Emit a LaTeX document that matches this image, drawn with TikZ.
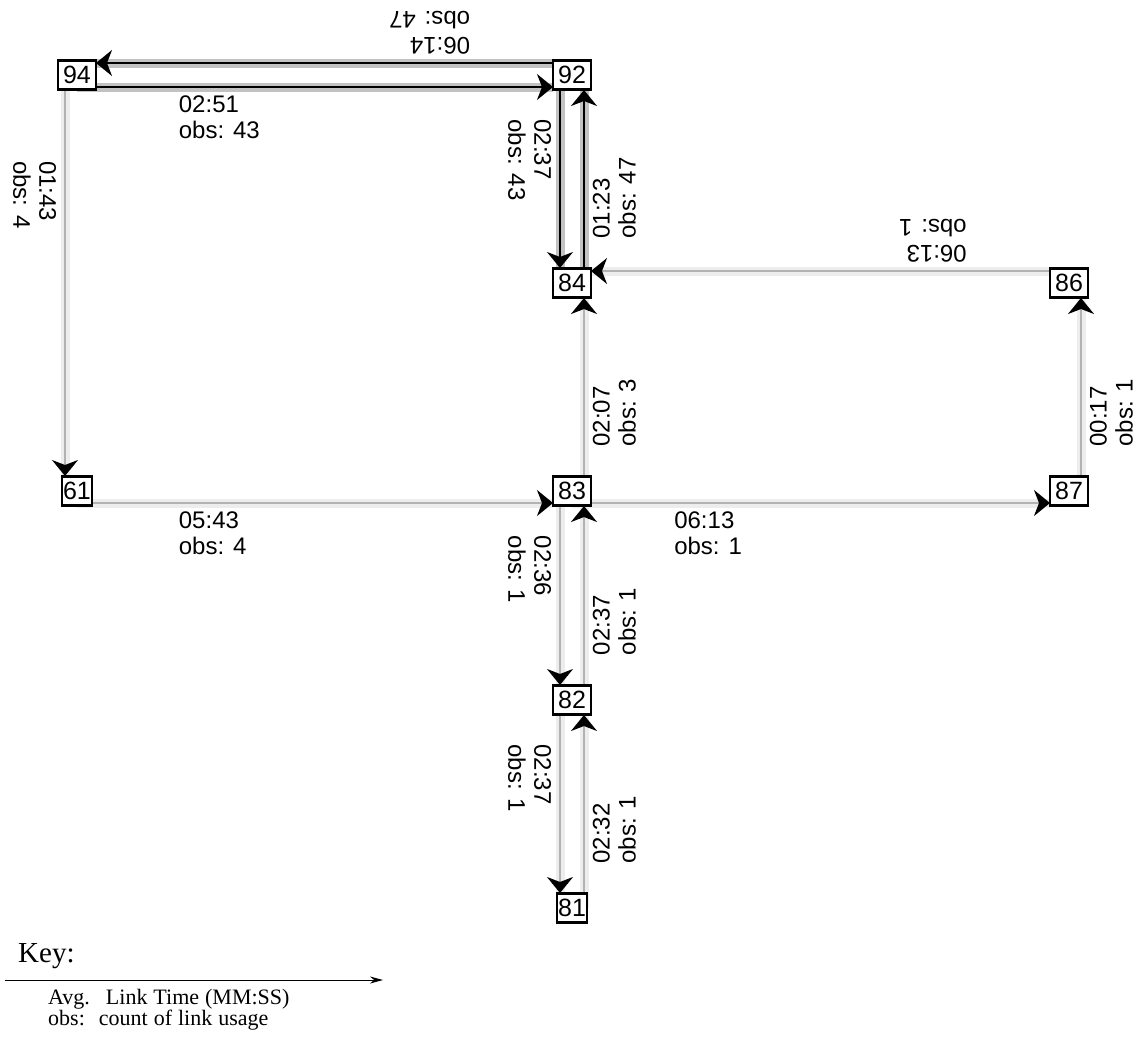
\documentclass[tikz,border=0pt]{standalone}
\usepackage{fontspec}
\usepackage{tikz}
\usetikzlibrary{arrows.meta,calc,backgrounds}
\newfontfamily\linkfont{Liberation Sans}
\newfontfamily\keyfont{Liberation Serif}
\colorlet{busy}{black}
\colorlet{quiet}{black!30}
\tikzset{
  % a stop box
  stop/.style={draw=black, fill=white, line width=2.2pt, minimum width=38pt,
    minimum height=29pt, inner sep=0pt,
    font={\linkfont\fontsize{25}{25}\selectfont}},
  % a directed link, its soft glow and its label
  link/.style={-{Stealth[length=16pt,width=26pt,inset=5pt,color=black]},
    line width=1.8pt},
  glow/.style={line width=9pt},
  linklab/.style={font={\linkfont\fontsize{24}{26}\selectfont}, sloped,
    allow upside down, anchor=north west, align=left,
    inner xsep=2pt, inner ysep=8pt},
  % the key
  keyhead/.style={font={\keyfont\fontsize{29}{29}\selectfont},
    anchor=base west, inner sep=0pt},
  keytext/.style={font={\keyfont\fontsize{22}{21}\selectfont\spaceskip=6pt\relax},
    align=left, anchor=north west, inner sep=0pt},
  keyarrow/.style={-{Stealth[length=13pt,width=7pt]}, line width=1pt},
}
\begin{document}
\begin{tikzpicture}[x=1pt,y=-1pt]
  \useasboundingbox (0,0) rectangle (1136,1037);
  % stops
  \foreach \id/\x/\y/\w in {94/77/75/38, 92/572/75/38, 84/572/283/38,
      86/1069/283/38, 61/77/491/30, 83/572/491/38, 87/1069/491/38,
      82/572/700/38, 81/572/908/30}
    \node[stop, minimum width=\w pt] (n\id) at (\x,\y) {\id};
  % links, each one set off to the right of its way
  \begin{scope}[on background layer]
    \foreach \src/\dst/\cut/\tm/\ob/\kind in {
        94/92/19/02:51/43/busy, 92/94/19/06:14/47/busy,
        92/84/15/02:37/43/busy, 84/92/15/01:23/47/busy,
        94/61/15/01:43/4/quiet, 61/83/19/05:43/4/quiet,
        83/84/15/02:07/3/quiet, 83/87/19/06:13/1/quiet,
        87/86/15/00:17/1/quiet, 86/84/19/06:13/1/quiet,
        83/82/15/02:36/1/quiet, 82/83/15/02:37/1/quiet,
        82/81/15/02:37/1/quiet, 81/82/15/02:32/1/quiet} {
      \draw[glow, draw=\kind!24, shorten >=\cut pt]
        ($(n\src)!12pt!-90:(n\dst)$) -- ($(n\dst)!12pt!90:(n\src)$);
      \draw[link, draw=\kind, shorten >=\cut pt]
        ($(n\src)!12pt!-90:(n\dst)$) -- ($(n\dst)!12pt!90:(n\src)$)
        node[linklab, pos=0.2] {\tm\\obs: \ob};
    }
  \end{scope}
  % key
  \node[keyhead] (keyhead) at (18,962) {Key:};
  \coordinate (keystart) at (5,980);
  \coordinate (keyend) at (383,980);
  \draw[keyarrow] (keystart) -- (keyend);
  \node[keytext] (keynote) at (48,989)
    {Avg.\hspace{16pt}Link Time (MM:SS)\\obs:\hspace{14pt}count of link usage};
\end{tikzpicture}
\end{document}
